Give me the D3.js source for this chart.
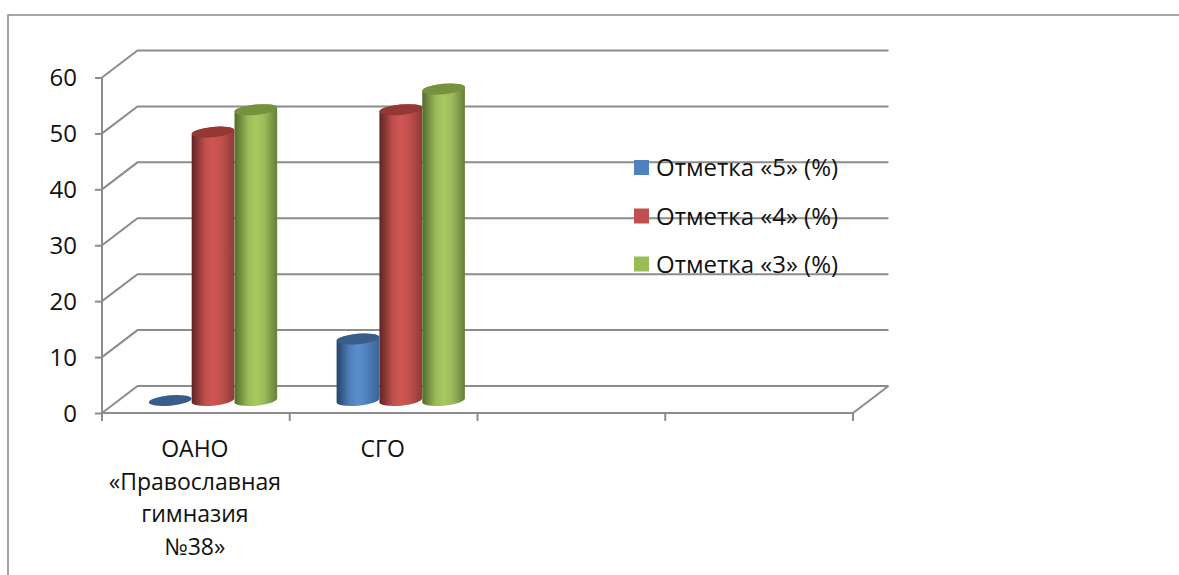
<!DOCTYPE html>
<html>
<head>
<meta charset="utf-8">
<script src="https://cdnjs.cloudflare.com/ajax/libs/d3/7.8.5/d3.min.js"></script>
<style>
  html, body { margin: 0; padding: 0; background: #fff; }
  svg { display: block; }
  text { font-family: "Open Sans", sans-serif; fill: #111; }
</style>
</head>
<body>
<div id="chart"></div>
<script>
// data
const categories = ["ОАНО|«Православная|гимназия|№38»", "СГО", "", ""];
const seriesNames = ["Отметка «5» (%)", "Отметка «4» (%)", "Отметка «3» (%)"];
const grade5 = [0, 11, null, null];
const grade4 = [48, 52, null, null];
const grade3 = [52, 55.7, null, null];
const yTicks = [0, 10, 20, 30, 40, 50, 60];

const width = 1179, height = 575;
const gridColor = "#8c8c8c";

const svg = d3.select("#chart").append("svg")
  .attr("width", width)
  .attr("height", height);

// front plane scales, the back wall is the same thing shifted by depth
const y = d3.scaleLinear().domain([0, 60]).range([413, 77.5]);
const x = d3.scaleBand().domain(d3.range(categories.length)).range([102, 853]);
const depth = { x: 35.5, y: -27 };

// outer frame, open on the right and bottom
svg.append("path")
  .attr("d", `M8,${height}V15H${width}`)
  .attr("fill", "none")
  .attr("stroke", "#8a8a8a")
  .attr("stroke-width", 1.6);

// gridlines on the back wall + diagonal on the side wall
const grid = svg.append("g")
  .attr("fill", "none")
  .attr("stroke", gridColor)
  .attr("stroke-width", 2);

grid.selectAll("path.wall")
  .data(yTicks)
  .join("path")
  .attr("class", "wall")
  .attr("d", d => `M${x.range()[0]},${y(d)}l${depth.x},${depth.y}H${x.range()[1] + depth.x}`);

// floor
grid.append("path")
  .attr("d", `M${x.range()[0]},${y(0)}H${x.range()[1]}l${depth.x},${depth.y}`);
// y axis line
grid.append("path")
  .attr("d", `M${x.range()[0]},${y(0)}V${y(60)}`);

// axes
const yAxis = svg.append("g")
  .attr("transform", `translate(${x.range()[0]},0)`)
  .call(d3.axisLeft(y).tickValues(yTicks).tickSize(7).tickPadding(18).tickFormat(d3.format("d")));
yAxis.select(".domain").remove();
yAxis.selectAll("line").attr("stroke", gridColor).attr("stroke-width", 2);
yAxis.selectAll("text").attr("font-size", 24).attr("dy", "0.35em").style("font-family", '"Open Sans", sans-serif');

const xTicks = d3.range(categories.length + 1).map(i => x.range()[0] + i * x.step());
svg.append("g").selectAll("line")
  .data(xTicks)
  .join("line")
  .attr("x1", d => d).attr("x2", d => d)
  .attr("y1", y(0)).attr("y2", y(0) + 8)
  .attr("stroke", gridColor)
  .attr("stroke-width", 2);

const xLabels = svg.append("g").selectAll("text")
  .data(categories)
  .join("text")
  .attr("text-anchor", "middle")
  .attr("font-size", 23);
xLabels.each(function (d, i) {
  const t = d3.select(this);
  d.split("|").forEach((line, j) => {
    t.append("tspan")
      .attr("x", x(i) + x.bandwidth() / 2 - 1)
      .attr("y", 457 + j * 32.7)
      .text(line);
  });
});

// cylinders
const colors = [
  { dark: "#284568", mid: "#4f81bd", light: "#5a8ecf", edge: "#3b6494", top: "#385d8a" },
  { dark: "#5e2422", mid: "#c0504d", light: "#cf5652", edge: "#8f3b39", top: "#953735" },
  { dark: "#546a2c", mid: "#9bbb59", light: "#a6c95e", edge: "#677f3a", top: "#76923c" }
];

const defs = svg.append("defs");
colors.forEach((c, i) => {
  const g = defs.append("linearGradient").attr("id", "cyl" + i);
  g.append("stop").attr("offset", "0%").attr("stop-color", c.dark);
  g.append("stop").attr("offset", "32%").attr("stop-color", c.mid);
  g.append("stop").attr("offset", "50%").attr("stop-color", c.light);
  g.append("stop").attr("offset", "70%").attr("stop-color", c.mid);
  g.append("stop").attr("offset", "100%").attr("stop-color", c.edge);
});

const seriesValues = [grade5, grade4, grade3];
const inner = d3.scaleBand().domain(d3.range(seriesNames.length))
  .range([29, 157.5]);

const rx = inner.bandwidth() / 2, ry = 5.2, tilt = 5.5;
const tx = rx * Math.cos(tilt * Math.PI / 180), ty = rx * Math.sin(tilt * Math.PI / 180);

// mid depth of the floor
const cx = (s, c) => x(c) + inner(s) + rx + depth.x / 2;
const cy = v => y(v) + depth.y / 2 + 1;

seriesValues.forEach((vals, s) => {
  const g = svg.append("g");
  const bars = vals.map((v, c) => ({ v, c })).filter(d => d.v !== null);

  g.selectAll("path.body")
    .data(bars.filter(d => d.v > 0))
    .join("path")
    .attr("class", "body")
    .attr("fill", `url(#cyl${s})`)
    .attr("d", d => {
      const X = cx(s, d.c), top = cy(d.v), bot = cy(0);
      return `M${X - tx},${top + ty}L${X - tx},${bot + ty}`
        + `A${rx},${ry} ${-tilt} 0 0 ${X + tx},${bot - ty}`
        + `L${X + tx},${top - ty}`
        + `A${rx},${ry} ${-tilt} 0 0 ${X - tx},${top + ty}Z`;
    });

  g.selectAll("ellipse")
    .data(bars)
    .join("ellipse")
    .attr("rx", rx)
    .attr("ry", ry)
    .attr("fill", colors[s].top)
    .attr("transform", d => `translate(${cx(s, d.c)},${cy(d.v)}) rotate(${-tilt})`);
});

// legend sits over the gridlines, no background
const legendRow = d3.scaleOrdinal().domain(d3.range(seriesNames.length)).range([168, 216.5, 264.5]);
const legend = svg.append("g").selectAll("g")
  .data(seriesNames)
  .join("g")
  .attr("transform", (d, i) => `translate(634,${legendRow(i)})`);
legend.append("rect")
  .attr("y", -8).attr("width", 15).attr("height", 15)
  .attr("fill", (d, i) => colors[i].mid);
legend.append("text")
  .attr("x", 22)
  .attr("dy", "0.35em")
  .attr("font-size", 24)
  .text(d => d);
</script>
</body>
</html>
